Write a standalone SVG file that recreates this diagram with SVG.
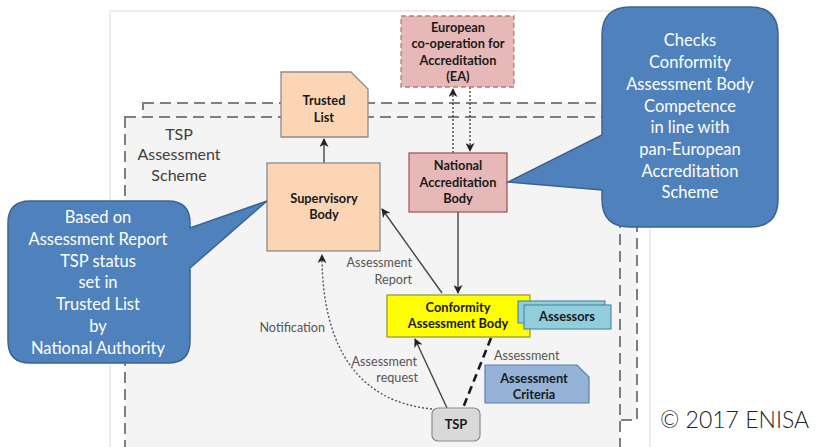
<svg xmlns="http://www.w3.org/2000/svg" width="826" height="447" viewBox="0 0 826 447">
<defs>
<style>
.lbl{font-family:Lato,"Liberation Sans",sans-serif;font-weight:bold;font-size:12.8px;fill:#1a1a1a;text-anchor:middle}
.edge{font-family:Lato,"Liberation Sans",sans-serif;font-size:12.6px;fill:#555}
.call{font-family:Lato,"Liberation Sans",sans-serif;font-size:16.5px;fill:#fff;text-anchor:middle}
.frame{fill:#f4f4f4;stroke:#7f7f7f;stroke-width:2;stroke-dasharray:11,6}
.bubble{fill:#4f81bd;stroke:#3c6391;stroke-width:1.5}
.ln{fill:none;stroke:#444;stroke-width:1.4}
</style>
<marker id="ah" viewBox="0 0 10 10" refX="9" refY="5" markerWidth="9" markerHeight="9" markerUnits="userSpaceOnUse" orient="auto">
<path d="M0,0 L10,5 L0,10 L3,5 Z" fill="#222"/>
</marker>
</defs>
<rect x="0" y="0" width="826" height="447" fill="#fff"/>
<path d="M110,447 V11 H650 V447" fill="#fff" stroke="#e6e6e6" stroke-width="1.5"/>
<g id="scheme">
<rect class="frame" x="143" y="103" width="494" height="317"/>
<rect class="frame" x="125" y="117" width="495" height="335"/>
<text x="179" y="140" font-family="Lato,'Liberation Sans',sans-serif" font-size="16" fill="#404040" text-anchor="middle">TSP</text>
<text x="179" y="160" font-family="Lato,'Liberation Sans',sans-serif" font-size="16" fill="#404040" text-anchor="middle">Assessment</text>
<text x="179" y="181" font-family="Lato,'Liberation Sans',sans-serif" font-size="16" fill="#404040" text-anchor="middle">Scheme</text>
</g>
<g id="connectors">
<path class="ln" d="M324,163 V139" marker-end="url(#ah)"/>
<path class="ln" d="M442,293 L382,209" marker-end="url(#ah)"/>
<path class="ln" d="M458,212 V293" marker-end="url(#ah)"/>
<path class="ln" d="M453,153 V89" stroke-dasharray="2,2" marker-end="url(#ah)"/>
<path class="ln" d="M470,87 V151" stroke-dasharray="2,2" marker-end="url(#ah)"/>
<path class="ln" d="M447,408 L415,339" marker-end="url(#ah)"/>
<path d="M491,338 L463,408" fill="none" stroke="#1a1a1a" stroke-width="2.6" stroke-dasharray="8,5"/>
<path d="M432,409 C360,402 322,350 322,255" fill="none" stroke="#555" stroke-width="1.4" stroke-dasharray="2,2" marker-end="url(#ah)"/>
<text class="edge" x="412" y="267" text-anchor="end">Assessment</text>
<text class="edge" x="412" y="284" text-anchor="end">Report</text>
<text class="edge" x="325" y="332" text-anchor="end">Notification</text>
<text class="edge" x="417" y="366" text-anchor="end">Assessment</text>
<text class="edge" x="418" y="382" text-anchor="end">request</text>
<text class="edge" x="494" y="360">Assessment</text>
</g>
<g id="trusted-list">
<path d="M281,72 H351 L368,89 V137 H281 Z" fill="#fcd5b4" stroke="#8c8c8c" stroke-width="1.3"/>
<text class="lbl" x="324" y="105">Trusted</text>
<text class="lbl" x="324" y="122">List</text>
</g>
<g id="supervisory-body">
<rect x="267" y="163" width="113" height="88" fill="#fcd5b4" stroke="#8c8c8c" stroke-width="1.3"/>
<text class="lbl" x="324" y="203">Supervisory</text>
<text class="lbl" x="324" y="219">Body</text>
</g>
<g id="ea">
<rect x="401" y="16" width="113" height="71" fill="#e6b8b7" stroke="#c07a78" stroke-width="1.3" stroke-dasharray="5,3"/>
<text class="lbl" x="458" y="32">European</text>
<text class="lbl" x="458" y="48">co-operation for</text>
<text class="lbl" x="458" y="65">Accreditation</text>
<text class="lbl" x="458" y="81">(EA)</text>
</g>
<g id="national-accreditation-body">
<rect x="409" y="153" width="98" height="59" fill="#e6b8b7" stroke="#a85a58" stroke-width="1.3"/>
<text class="lbl" x="458" y="170">National</text>
<text class="lbl" x="458" y="187">Accreditation</text>
<text class="lbl" x="458" y="203">Body</text>
</g>
<g id="conformity-assessment-body">
<rect x="387" y="295" width="143" height="42" fill="#ffff00" stroke="#9a9a40" stroke-width="1.3"/>
<text class="lbl" x="458" y="312">Conformity</text>
<text class="lbl" x="458" y="328">Assessment Body</text>
</g>
<g id="assessors">
<rect x="518" y="301" width="87" height="22" fill="#92cddc" stroke="#4f8ea3" stroke-width="1.2"/>
<rect x="524" y="305" width="87" height="24" fill="#92cddc" stroke="#4f8ea3" stroke-width="1.2"/>
<text class="lbl" x="567" y="321">Assessors</text>
</g>
<g id="assessment-criteria">
<path d="M485,365 H577 L589,377 V403 H485 Z" fill="#95b3d7" stroke="#5b7fb5" stroke-width="1.2"/>
<text class="lbl" x="534" y="383">Assessment</text>
<text class="lbl" x="534" y="399">Criteria</text>
</g>
<g id="tsp">
<rect x="432" y="408" width="48" height="33" rx="6" fill="#d9d9d9" stroke="#8c8c8c" stroke-width="1.2"/>
<text class="lbl" x="456" y="429">TSP</text>
</g>
<g id="callout-left">
<path class="bubble" d="M30,201 H168 Q190,201 190,223 V228 L267,201 L190,268 V341 Q190,363 168,363 H30 Q8,363 8,341 V223 Q8,201 30,201 Z"/>
<text class="call" x="98" y="223">Based on</text>
<text class="call" x="98" y="245">Assessment Report</text>
<text class="call" x="98" y="267">TSP status</text>
<text class="call" x="98" y="288">set in</text>
<text class="call" x="98" y="310">Trusted List</text>
<text class="call" x="98" y="332">by</text>
<text class="call" x="98" y="354">National Authority</text>
</g>
<g id="callout-right">
<path class="bubble" d="M630,7 H750 Q778,7 778,35 V199 Q778,227 750,227 H630 Q602,227 602,199 V190 L508,182 L602,135 V35 Q602,7 630,7 Z"/>
<text class="call" x="690" y="46">Checks</text>
<text class="call" x="690" y="68">Conformity</text>
<text class="call" x="690" y="90">Assessment Body</text>
<text class="call" x="690" y="112">Competence</text>
<text class="call" x="690" y="133">in line with</text>
<text class="call" x="690" y="155">pan-European</text>
<text class="call" x="690" y="177">Accreditation</text>
<text class="call" x="690" y="198">Scheme</text>
</g>
<text x="660" y="428" font-family="Lato,'Open Sans',sans-serif" font-weight="300" font-size="23" fill="#222">© 2017 ENISA</text>
</svg>
